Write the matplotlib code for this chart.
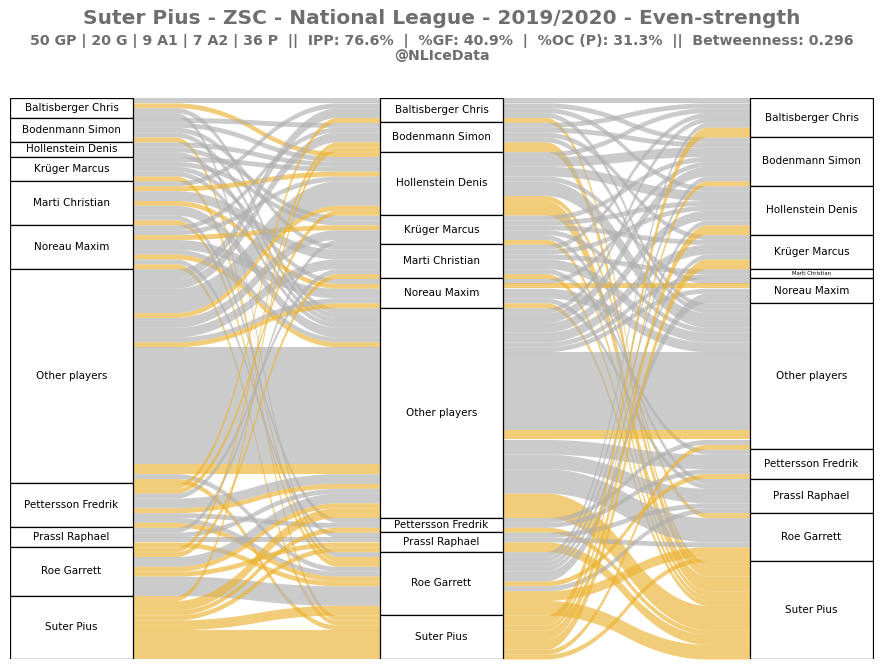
import matplotlib
matplotlib.use("Agg")
import matplotlib.pyplot as plt
from matplotlib.patches import Rectangle
import numpy as np

players = ["Baltisberger Chris", "Bodenmann Simon", "Hollenstein Denis", "Krüger Marcus",
           "Marti Christian", "Noreau Maxim", "Other players", "Pettersson Fredrik",
           "Prassl Raphael", "Roe Garrett", "Suter Pius"]
keys = ["Balt", "Bod", "Holl", "Krug", "Marti", "Noreau", "Other", "Pett", "Prassl", "Roe", "Suter"]

# (from, to, goals without Suter, goals with Suter involved)
flows_a2_a1 = [
    ("Balt", "Balt", 1, 0), ("Balt", "Holl", 0, 1), ("Balt", "Other", 1, 0), ("Balt", "Roe", 1, 0),
    ("Bod", "Bod", 1, 0), ("Bod", "Holl", 1, 0), ("Bod", "Marti", 1, 0), ("Bod", "Other", 1, 0),
    ("Bod", "Suter", 0, 1),
    ("Holl", "Holl", 1, 0), ("Holl", "Krug", 1, 0), ("Holl", "Other", 1, 0),
    ("Krug", "Holl", 1, 0), ("Krug", "Krug", 1, 0), ("Krug", "Noreau", 1, 0), ("Krug", "Other", 1, 0),
    ("Krug", "Roe", 0, 1),
    ("Marti", "Balt", 1, 0), ("Marti", "Holl", 0, 1), ("Marti", "Marti", 2, 0), ("Marti", "Noreau", 0, 1),
    ("Marti", "Other", 2, 0), ("Marti", "Pett", 1, 0), ("Marti", "Roe", 0, 1),
    ("Noreau", "Bod", 1, 0), ("Noreau", "Holl", 1, 0), ("Noreau", "Krug", 0, 1), ("Noreau", "Noreau", 2, 0),
    ("Noreau", "Other", 1, 1), ("Noreau", "Prassl", 1, 0), ("Noreau", "Suter", 0, 1),
    ("Other", "Balt", 2, 0), ("Other", "Bod", 2, 0), ("Other", "Holl", 5, 1), ("Other", "Krug", 2, 0),
    ("Other", "Marti", 2, 0), ("Other", "Noreau", 1, 1), ("Other", "Other", 24, 2), ("Other", "Roe", 1, 0),
    ("Other", "Suter", 0, 1),
    ("Pett", "Balt", 0, 1), ("Pett", "Holl", 0, 1), ("Pett", "Marti", 1, 0), ("Pett", "Other", 2, 1),
    ("Pett", "Pett", 1, 0), ("Pett", "Roe", 1, 1),
    ("Prassl", "Krug", 1, 0), ("Prassl", "Other", 1, 0), ("Prassl", "Prassl", 1, 0), ("Prassl", "Roe", 0, 1),
    ("Roe", "Bod", 0, 1), ("Roe", "Marti", 0, 1), ("Roe", "Other", 2, 1), ("Roe", "Prassl", 0, 1),
    ("Roe", "Roe", 4, 0),
    ("Suter", "Bod", 0, 1), ("Suter", "Other", 0, 2), ("Suter", "Pett", 0, 1), ("Suter", "Prassl", 0, 1),
    ("Suter", "Roe", 0, 2), ("Suter", "Suter", 0, 6),
]

flows_a1_g = [
    ("Balt", "Balt", 1, 0), ("Balt", "Bod", 1, 0), ("Balt", "Holl", 1, 0), ("Balt", "Other", 1, 0),
    ("Balt", "Suter", 0, 1),
    ("Bod", "Balt", 1, 0), ("Bod", "Bod", 1, 0), ("Bod", "Krug", 1, 0), ("Bod", "Other", 1, 0),
    ("Bod", "Suter", 0, 2),
    ("Holl", "Balt", 1, 0), ("Holl", "Bod", 2, 0), ("Holl", "Holl", 2, 0), ("Holl", "Noreau", 1, 0),
    ("Holl", "Other", 3, 0), ("Holl", "Roe", 0, 1), ("Holl", "Suter", 0, 3),
    ("Krug", "Bod", 1, 0), ("Krug", "Holl", 1, 0), ("Krug", "Krug", 1, 0), ("Krug", "Other", 1, 0),
    ("Krug", "Prassl", 1, 0), ("Krug", "Suter", 0, 1),
    ("Marti", "Balt", 1, 0), ("Marti", "Holl", 1, 0), ("Marti", "Marti", 1, 0), ("Marti", "Other", 2, 0),
    ("Marti", "Pett", 1, 0), ("Marti", "Suter", 0, 1),
    ("Noreau", "Bod", 1, 0), ("Noreau", "Noreau", 0, 1), ("Noreau", "Other", 2, 0), ("Noreau", "Prassl", 1, 0),
    ("Noreau", "Suter", 0, 1),
    ("Other", "Balt", 1, 0), ("Other", "Bod", 2, 0), ("Other", "Holl", 2, 0), ("Other", "Krug", 2, 0),
    ("Other", "Marti", 1, 0), ("Other", "Noreau", 1, 0), ("Other", "Other", 16, 2), ("Other", "Pett", 3, 0),
    ("Other", "Prassl", 3, 0), ("Other", "Roe", 5, 0), ("Other", "Suter", 0, 5),
    ("Pett", "Other", 1, 0), ("Pett", "Pett", 1, 0), ("Pett", "Suter", 0, 1),
    ("Prassl", "Prassl", 1, 0), ("Prassl", "Roe", 1, 0), ("Prassl", "Suter", 0, 2),
    ("Roe", "Balt", 1, 0), ("Roe", "Bod", 1, 0), ("Roe", "Holl", 1, 0), ("Roe", "Krug", 1, 0),
    ("Roe", "Noreau", 2, 0), ("Roe", "Pett", 0, 1), ("Roe", "Prassl", 1, 0), ("Roe", "Roe", 0, 2),
    ("Roe", "Suter", 0, 3),
    ("Suter", "Balt", 0, 2), ("Suter", "Bod", 0, 1), ("Suter", "Holl", 0, 2), ("Suter", "Krug", 0, 2),
    ("Suter", "Other", 0, 1), ("Suter", "Roe", 0, 1),
]

title = "Suter Pius - ZSC - National League - 2019/2020 - Even-strength"
subtitle = ("50 GP | 20 G | 9 A1 | 7 A2 | 36 P  ||  IPP: 76.6%  |  %GF: 40.9%  |  "
            "%OC (P): 31.3%  ||  Betweenness: 0.296")
credit = "@NLIceData"

GRAY = "#b0b0b0"
GOLD = "#ebb232"
TXT = "#6e6e6e"


def node_sizes(flows, side):
    sizes = dict.fromkeys(keys, 0)
    for f in flows:
        sizes[f[side]] += f[2] + f[3]
    return sizes


def band(ax, x0, x1, a_top, a_bot, b_top, b_bot, color):
    k = 0.05 * np.ones(20)
    top = np.array(50 * [a_top] + 50 * [b_top])
    bot = np.array(50 * [a_bot] + 50 * [b_bot])
    top = np.convolve(np.convolve(top, k, mode="valid"), k, mode="valid")
    bot = np.convolve(np.convolve(bot, k, mode="valid"), k, mode="valid")
    xs = np.linspace(x0, x1, len(top))
    ax.fill_between(xs, top, bot, color=color, alpha=0.65, lw=0)


def draw_links(ax, flows, x0, x1):
    src = node_sizes(flows, 0)
    dst = node_sizes(flows, 1)
    s_cur, d_cur = {}, {}
    acc_s = acc_d = 0
    for k in keys:
        s_cur[k] = acc_s
        d_cur[k] = acc_d
        acc_s += src[k]
        acc_d += dst[k]
    order = {k: i for i, k in enumerate(keys)}
    ordered = sorted(flows, key=lambda f: (order[f[0]], order[f[1]]))
    for a, b, grey_n, gold_n in ordered:
        for n, col in ((grey_n, GRAY), (gold_n, GOLD)):
            if n == 0:
                continue
            band(ax, x0, x1, s_cur[a], s_cur[a] + n, d_cur[b], d_cur[b] + n, col)
            s_cur[a] += n
            d_cur[b] += n


def draw_boxes(ax, sizes, x, w):
    y = 0
    for k, name in zip(keys, players):
        h = sizes[k]
        ax.add_patch(Rectangle((x, y), w, h, facecolor="white", edgecolor="black", lw=0.9, zorder=5))
        fs = 7.5 if h >= 3 else 3.8
        ax.text(x + w / 2, y + h / 2, name, ha="center", va="center", fontsize=fs, zorder=6)
        y += h


fig = plt.figure(figsize=(8.84, 6.67), dpi=100)
ax = fig.add_axes([10 / 884, 8 / 667, 864 / 884, 561 / 667])
total = sum(node_sizes(flows_a2_a1, 0).values())
ax.set_xlim(0, 864)
ax.set_ylim(total, 0)
ax.axis("off")

box_w = 123
col_x = [0, 370, 740]

draw_links(ax, flows_a2_a1, col_x[0] + box_w, col_x[1])
draw_links(ax, flows_a1_g, col_x[1] + box_w, col_x[2])

draw_boxes(ax, node_sizes(flows_a2_a1, 0), col_x[0], box_w)
draw_boxes(ax, node_sizes(flows_a1_g, 0), col_x[1], box_w)
draw_boxes(ax, node_sizes(flows_a1_g, 1), col_x[2], box_w)

fig.text(0.5, 1 - 19 / 667, title, ha="center", va="center", fontsize=14.5, fontweight="bold", color=TXT)
fig.text(0.5, 1 - 41 / 667, subtitle, ha="center", va="center", fontsize=10.2, fontweight="bold", color=TXT)
fig.text(0.5, 1 - 56 / 667, credit, ha="center", va="center", fontsize=10.2, fontweight="bold", color=TXT)

fig.savefig("out.png", dpi=100)
